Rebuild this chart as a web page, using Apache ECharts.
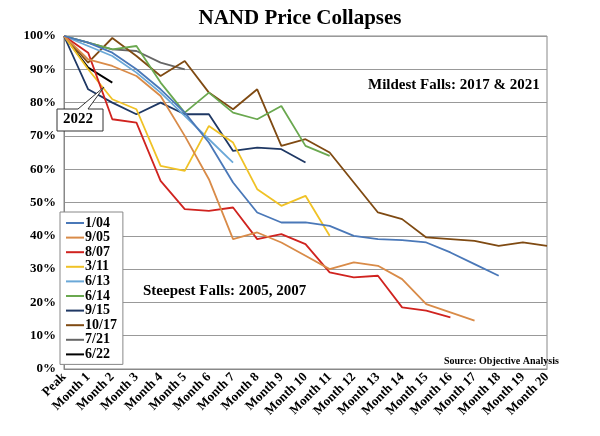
<!DOCTYPE html><html><head><meta charset="utf-8"><script src="https://cdn.jsdelivr.net/npm/echarts@6/dist/echarts.min.js"></script>
<style>html,body{margin:0;padding:0;background:#fff}#c{width:600px;height:436px}</style></head><body><div id="c"></div><script>
const categories=['Peak','Month 1','Month 2','Month 3','Month 4','Month 5','Month 6','Month 7','Month 8','Month 9','Month 10','Month 11','Month 12','Month 13','Month 14','Month 15','Month 16','Month 17','Month 18','Month 19','Month 20'];
const yTicks=[0,10,20,30,40,50,60,70,80,90,100];
const s0104=[100,98,95,90,84,77,68,56,47,44,44,43,40,39,38.7,38,35,31.5,28];
const s0905=[100,93,91,88,82,70,57,39,41,38,34,30,32,31,27,19.5,17,14.5];
const s0807=[100,95,75,74,56.5,48,47.5,48.5,39,40.5,37.5,29,27.5,28,18.5,17.5,15.5];
const s0311=[100,90,81,78,61,59.5,73,68,54,49,52,40];
const s0613=[100,97,94,89,83,76,69,62];
const s0614=[100,98,96,97,86,77,83,77,75,79,67,64];
const s0915=[100,84,80,76.5,80,76.5,76.5,65.5,66.5,66,62];
const s1017=[100,92,99.4,94,88,92.5,83,78,84,67,69,65,56,47,45,39.5,39,38.5,37,38,37];
const s0721=[100,98,96,95.5,92,90];
const s0622=[100,90.5,86];
const names=['1/04','9/05','8/07','3/11','6/13','6/14','9/15','10/17','7/21','6/22'];
const datas=[s0104,s0905,s0807,s0311,s0613,s0614,s0915,s1017,s0721,s0622];
const colors=['#4a78b8','#d98b48','#d0231f','#f0c226','#6aa8d8','#6aa84f','#1f3864','#7f4a12','#666666','#000000'];
const F='Liberation Serif';
const chart=echarts.init(document.getElementById('c'));
chart.setOption({
 backgroundColor:'#fff',animation:false,
 title:{text:'NAND Price Collapses',left:'center',top:3,textStyle:{fontFamily:F,fontSize:21,fontWeight:'bold',color:'#000'}},
 grid:{left:64,right:53,top:36,bottom:67},
 legend:{orient:'vertical',left:60,top:212,itemGap:0.6,itemWidth:18,itemHeight:2,icon:'rect',padding:[4,6,3,6],
  borderColor:'#888',borderWidth:1,backgroundColor:'#fff',data:names,
  textStyle:{fontFamily:F,fontSize:14,fontWeight:'bold',color:'#000',padding:[0,0,0,-4]}},
 xAxis:{type:'category',data:categories,boundaryGap:false,
  axisLine:{lineStyle:{color:'#888'}},axisTick:{show:false},
  axisLabel:{rotate:45,interval:0,fontFamily:F,fontSize:13,fontWeight:'bold',color:'#000',margin:6}},
 yAxis:{type:'value',min:0,max:100,interval:10,
  axisLine:{show:true,lineStyle:{color:'#888'}},
  splitLine:{lineStyle:{color:'#999'}},
  axisLabel:{formatter:'{value}%',fontFamily:F,fontSize:13,fontWeight:'bold',color:'#000'}},
 series:datas.map((d,i)=>({name:names[i],type:'line',data:d,symbol:'none',color:colors[i],lineStyle:{width:1.8,color:colors[i]},z:10-i})),
 graphic:[
  {type:'rect',shape:{x:64,y:36,width:483,height:333},style:{fill:'none',stroke:'#888',lineWidth:1},z:-1},
  {type:'text',left:368,top:78,style:{text:'Mildest Falls: 2017 & 2021',font:'bold 15px "Liberation Serif"',fill:'#000'}},
  {type:'text',left:143,top:284,style:{text:'Steepest Falls: 2005, 2007',font:'bold 15px "Liberation Serif"',fill:'#000'}},
  {type:'text',left:444,top:356,style:{text:'Source: Objective Analysis',font:'bold 10px "Liberation Serif"',fill:'#000'}},
  {type:'polyline',shape:{points:[[57,109],[78,109],[104,87],[88,109],[103,109],[103,131],[57,131],[57,109]]},style:{fill:'#fff',stroke:'#333',lineWidth:1},z:20},
  {type:'text',left:63,top:112,style:{text:'2022',font:'bold 15px "Liberation Serif"',fill:'#000'},z:21}
 ]
});
</script></body></html>
